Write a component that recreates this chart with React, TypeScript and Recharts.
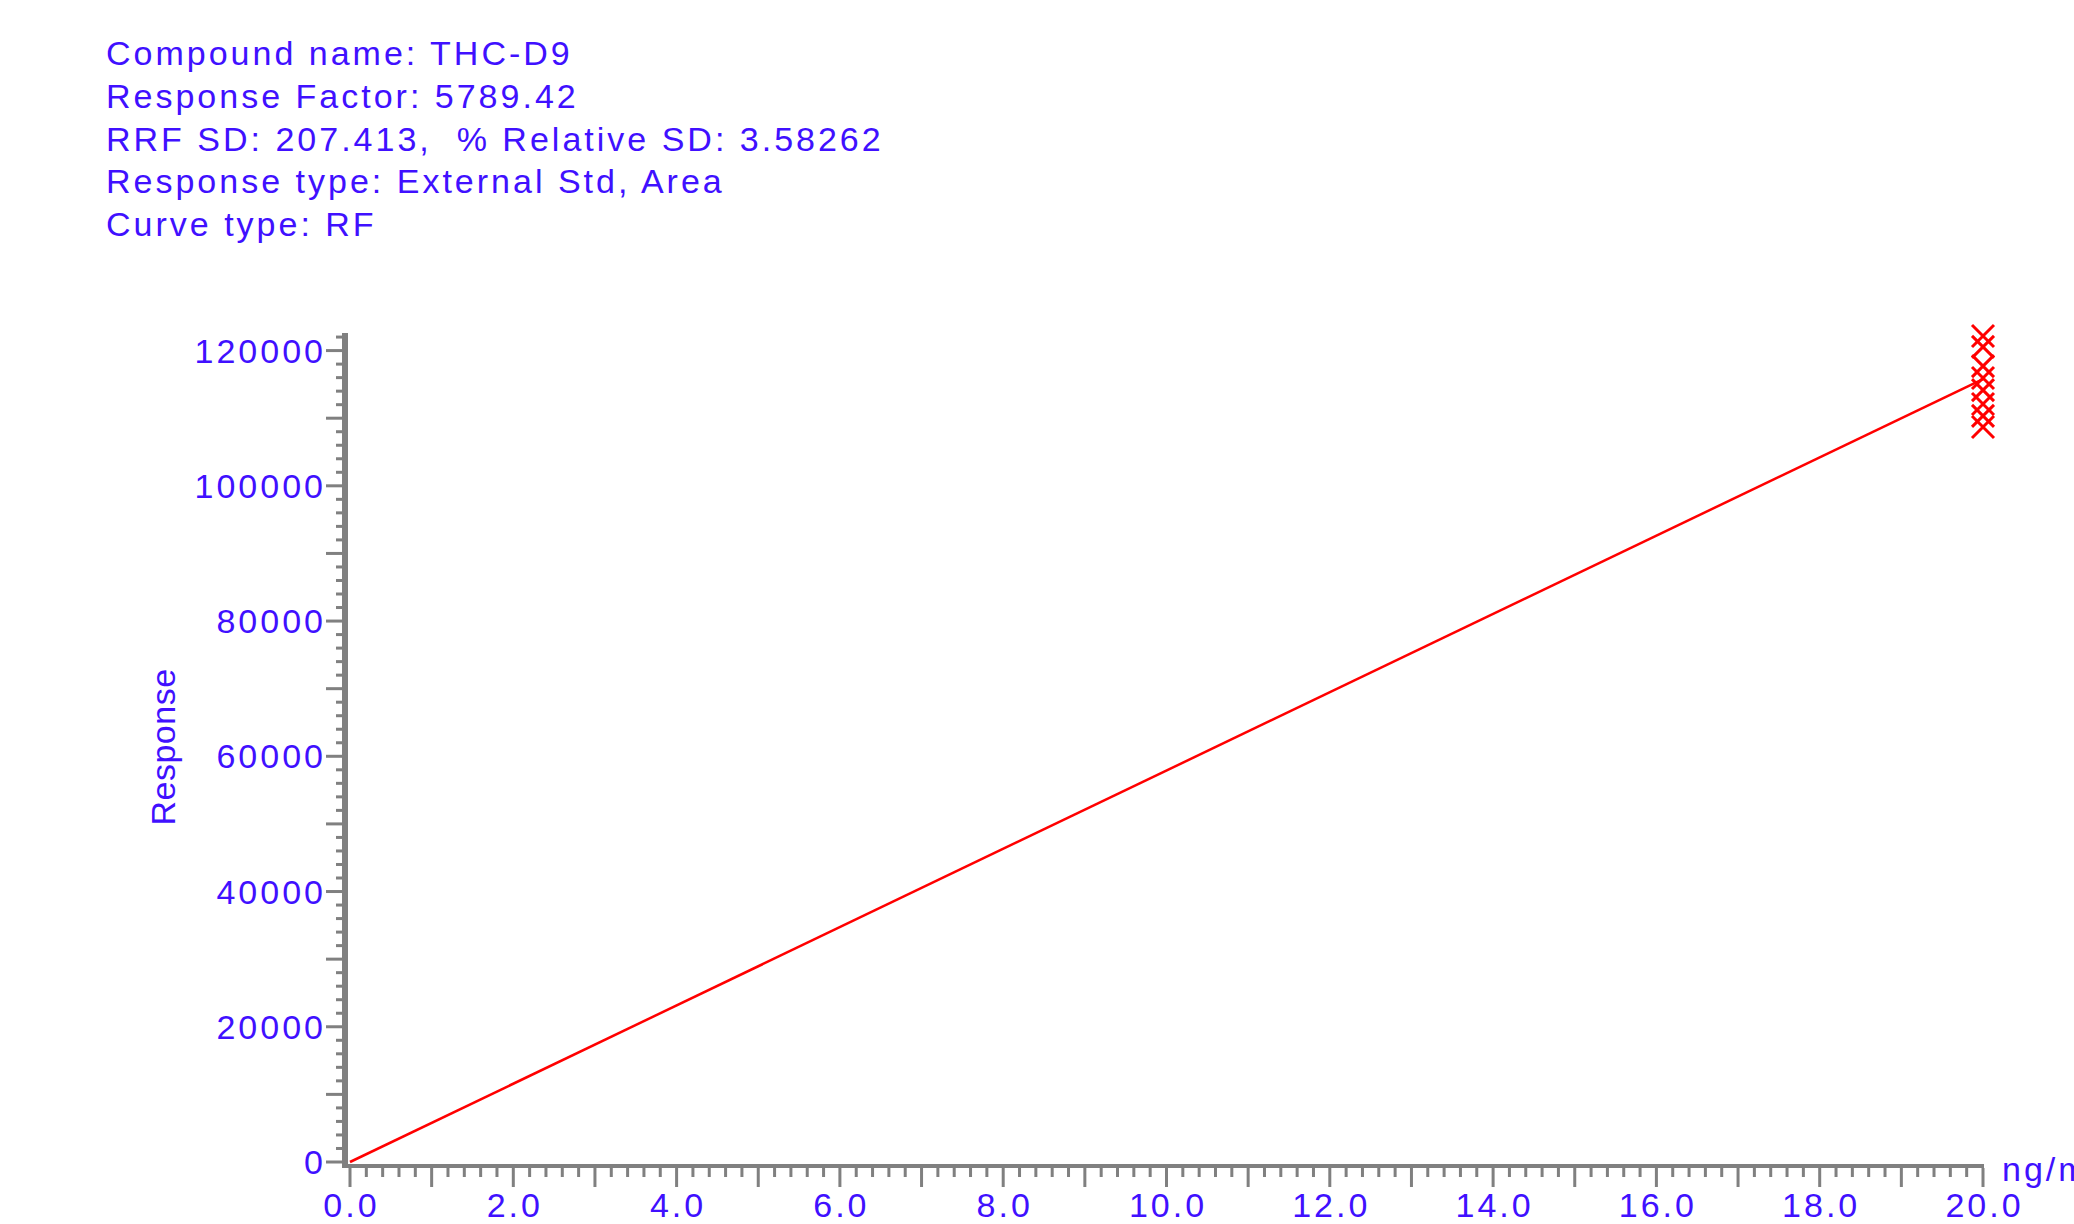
import { ComposedChart, Line, Scatter, XAxis, YAxis } from 'recharts';

// calibration report text
const headerLines = [
  'Compound name: THC-D9',
  'Response Factor: 5789.42',
  'RRF SD: 207.413,  % Relative SD: 3.58262',
  'Response type: External Std, Area',
  'Curve type: RF',
];

// standards (all injected at 20 ng/mL)
const stdAmount = [20, 20, 20, 20, 20, 20, 20, 20];
const stdResponse = [122150, 120550, 117700, 115950, 114150, 112100, 110350, 108700];

// RF fit line through origin
const fitAmount = [0, 20];
const fitResponse = [0, 115788.4];

const yLabelTicks = [0, 20000, 40000, 60000, 80000, 100000, 120000];
const xLabelTicks = [0, 2, 4, 6, 8, 10, 12, 14, 16, 18, 20];

const yMinorTicks = Array.from({ length: 62 }, (_, i) => i * 2000);
const xMinorTicks = Array.from({ length: 101 }, (_, i) => i / 5);

const stdData = stdAmount.map((x, i) => ({ x, y: stdResponse[i] }));
const fitData = fitAmount.map((x, i) => ({ x, y: fitResponse[i] }));

const W = 2074;
const H = 1224;
const PLOT_LEFT = 350;
const PLOT_TOP = 333;
const PLOT_RIGHT = 1983;
const PLOT_BOTTOM = 1162;

const FONT = '"Liberation Sans", Arial, Helvetica, sans-serif';
const TXT = '#4010ff';
const AXIS = '#808080';
const RED = '#ff0000';

const textStyle = { fontFamily: FONT, fontSize: 34, letterSpacing: 3, fill: TXT } as const;

const YTick = (props: any) => {
  const { y, payload } = props;
  const v = payload.value;
  const major = v % 10000 === 0;
  return (
    <g>
      <rect x={major ? PLOT_LEFT - 24 : PLOT_LEFT - 14} y={y - 1.5} width={major ? 17 : 7} height={3} fill={AXIS} />
      {yLabelTicks.includes(v) && (
        <text x={PLOT_LEFT - 24} y={y + 12} textAnchor="end" style={textStyle}>
          {v}
        </text>
      )}
    </g>
  );
};

const XTick = (props: any) => {
  const { x, payload } = props;
  const v = Math.round(payload.value * 5) / 5;
  const major = Number.isInteger(v);
  return (
    <g>
      <rect x={x - 1.5} y={PLOT_BOTTOM + 6} width={3} height={major ? 19 : 9} fill={AXIS} />
      {xLabelTicks.includes(v) && (
        <text x={x + 1.5} y={PLOT_BOTTOM + 55} textAnchor="middle" style={textStyle}>
          {v.toFixed(1)}
        </text>
      )}
    </g>
  );
};

const XMark = (props: any) => {
  const { cx, cy } = props;
  const h = 11;
  return (
    <path
      d={`M${cx - h},${cy - h}L${cx + h},${cy + h}M${cx + h},${cy - h}L${cx - h},${cy + h}`}
      stroke={RED}
      strokeWidth={3}
      fill="none"
    />
  );
};

export default function App() {
  return (
    <div style={{ position: 'absolute', left: 0, top: 0, width: W, height: H, overflow: 'hidden', background: '#fff' }}>
      <svg width={W} height={H} style={{ position: 'absolute', left: 0, top: 0 }}>
        {headerLines.map((line, i) => (
          <text key={i} x={106} y={65 + i * 42.8} style={{ ...textStyle, whiteSpace: 'pre' }}>
            {line}
          </text>
        ))}
        <text
          transform={`translate(175,747) rotate(-90)`}
          textAnchor="middle"
          style={{ fontFamily: FONT, fontSize: 34, letterSpacing: 0.5, fill: TXT }}
        >
          Response
        </text>
        <text x={2002} y={1181} style={textStyle}>
          ng/mL
        </text>
        {/* axis lines */}
        <rect x={PLOT_LEFT - 8} y={PLOT_TOP} width={6} height={PLOT_BOTTOM + 6 - PLOT_TOP} fill={AXIS} />
        <rect x={PLOT_LEFT - 8} y={PLOT_BOTTOM + 2} width={PLOT_RIGHT - PLOT_LEFT + 9} height={4} fill={AXIS} />
      </svg>
      <div style={{ position: 'absolute', left: 0, top: 0 }}>
        <ComposedChart
          width={W}
          height={H}
          margin={{ top: PLOT_TOP, right: W - PLOT_RIGHT, left: PLOT_LEFT - 100, bottom: H - PLOT_BOTTOM - 50 }}
        >
          <XAxis
            type="number"
            dataKey="x"
            domain={[0, 20]}
            ticks={xMinorTicks}
            interval={0}
            height={50}
            axisLine={false}
            tickLine={false}
            tickSize={0}
            tickMargin={0}
            tick={<XTick />}
          />
          <YAxis
            type="number"
            domain={[0, 122600]}
            ticks={yMinorTicks}
            interval={0}
            width={100}
            axisLine={false}
            tickLine={false}
            tickSize={0}
            tickMargin={0}
            tick={<YTick />}
          />
          <Line
            data={fitData}
            dataKey="y"
            type="linear"
            stroke={RED}
            strokeWidth={2.5}
            dot={false}
            isAnimationActive={false}
          />
          <Scatter data={stdData} dataKey="y" shape={<XMark />} isAnimationActive={false} />
        </ComposedChart>
      </div>
    </div>
  );
}
